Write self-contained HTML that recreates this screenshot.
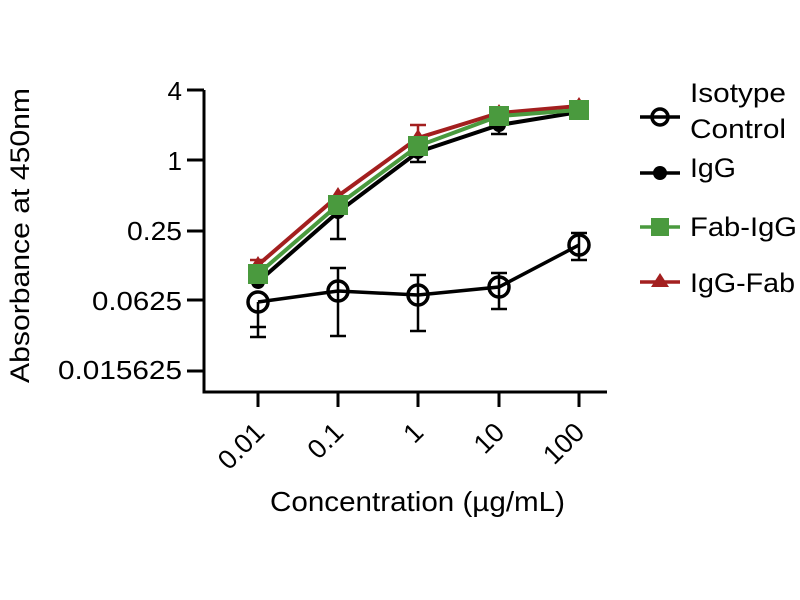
<!DOCTYPE html>
<html><head><style>body{margin:0;background:#fff}svg{display:block}text{font-family:"Liberation Sans",Arial,sans-serif;fill:#000}</style></head>
<body><svg width="800" height="600" viewBox="0 0 800 600">
<g stroke="#000" stroke-width="3" fill="none">
<path d="M204 90V392H607"/>
<path d="M187 90H204M187 160H204M187 231H204M187 300H204M187 371H204"/>
<path d="M258 392V407M338 392V407M418 392V407M499 392V407M579 392V407"/>
</g>
<g font-size="26" text-anchor="end">
<text x="182" y="100">4</text><text x="182" y="170">1</text>
<text x="182" y="240" textLength="55" lengthAdjust="spacingAndGlyphs">0.25</text>
<text x="182" y="310" textLength="90" lengthAdjust="spacingAndGlyphs">0.0625</text>
<text x="182" y="379" textLength="124" lengthAdjust="spacingAndGlyphs">0.015625</text>
</g>
<g font-size="27" text-anchor="end">
<text transform="translate(266,434) rotate(-45)">0.01</text>
<text transform="translate(345,434) rotate(-45)">0.1</text>
<text transform="translate(425,434) rotate(-45)">1</text>
<text transform="translate(506,434) rotate(-45)">10</text>
<text transform="translate(586,434) rotate(-45)">100</text>
</g>
<text x="270" y="511" font-size="28" textLength="295" lengthAdjust="spacingAndGlyphs">Concentration (µg/mL)</text>
<text transform="translate(29,383) rotate(-90)" font-size="27" textLength="295" lengthAdjust="spacingAndGlyphs">Absorbance at 450nm</text>
<!-- error bars -->
<g stroke="#000" stroke-width="2.5" fill="none">
<path d="M258 302V337M250 327H266M250 337H266"/>
<path d="M338 268V336M330 268H346M330 336H346"/>
<path d="M418 275V331M410 275H426M410 331H426"/>
<path d="M499 273V309M491 273H507M491 309H507"/>
<path d="M579 233V260M571 233H587M571 260H587"/>
<path d="M338 212V239M330 239H346"/>
<path d="M418 152V162M410 162H426"/>
<path d="M499 125V134M491 134H507"/>
</g>
<g stroke="#a31f1f" stroke-width="2.5" fill="none"><path d="M418 138V125M410 125H426M258 265V260M250 260H266"/></g>
<!-- series -->
<polyline points="258,282 338,212 418,152 499,125 579,112" fill="none" stroke="#000" stroke-width="4"/>
<polyline points="258,265 338,196 418,138 499,113 579,106" fill="none" stroke="#a31f1f" stroke-width="4"/>
<polyline points="258,274 338,205 418,146 499,116 579,110" fill="none" stroke="#4a9a3e" stroke-width="4"/>
<g fill="#000"><circle cx="258" cy="282" r="7"/><circle cx="338" cy="212" r="7"/><circle cx="418" cy="152" r="7"/><circle cx="499" cy="125" r="7"/><circle cx="579" cy="112" r="7"/></g>
<g fill="#a31f1f"><path d="M258 256l9 14h-18z"/><path d="M338 187l9 14h-18z"/><path d="M418 129l9 14h-18z"/><path d="M499 104l9 14h-18z"/><path d="M579 97l9 14h-18z"/></g>
<g fill="#4a9a3e"><rect x="248" y="264" width="20" height="20"/><rect x="328" y="195" width="20" height="20"/><rect x="408" y="136" width="20" height="20"/><rect x="489" y="106" width="20" height="20"/><rect x="569" y="100" width="20" height="20"/></g>
<polyline points="258,302 338,291 418,295 499,287 579,245" fill="none" stroke="#000" stroke-width="3.5"/>
<g fill="none" stroke="#000" stroke-width="3.5"><circle cx="258" cy="302" r="10"/><circle cx="338" cy="291" r="10"/><circle cx="418" cy="295" r="10"/><circle cx="499" cy="287" r="10"/><circle cx="579" cy="245" r="10"/></g>
<!-- legend -->
<g stroke-width="3.5">
<line x1="640" y1="117" x2="680" y2="117" stroke="#000"/><circle cx="660" cy="117" r="8" fill="none" stroke="#000"/>
<line x1="640" y1="173" x2="680" y2="173" stroke="#000"/><circle cx="660" cy="173" r="7" fill="#000" stroke="none"/>
<line x1="640" y1="227" x2="680" y2="227" stroke="#4a9a3e"/><rect x="651" y="218" width="18" height="18" fill="#4a9a3e" stroke="none"/>
<line x1="640" y1="282" x2="680" y2="282" stroke="#a31f1f"/><path d="M660 273l9 14h-18z" fill="#a31f1f" stroke="none"/>
</g>
<g font-size="27">
<text x="690" y="102" textLength="96" lengthAdjust="spacingAndGlyphs">Isotype</text>
<text x="690" y="138" textLength="96" lengthAdjust="spacingAndGlyphs">Control</text>
<text x="690" y="177" textLength="46" lengthAdjust="spacingAndGlyphs">IgG</text>
<text x="690" y="236" textLength="107" lengthAdjust="spacingAndGlyphs">Fab-IgG</text>
<text x="690" y="292" textLength="105" lengthAdjust="spacingAndGlyphs">IgG-Fab</text>
</g>
</svg></body></html>
